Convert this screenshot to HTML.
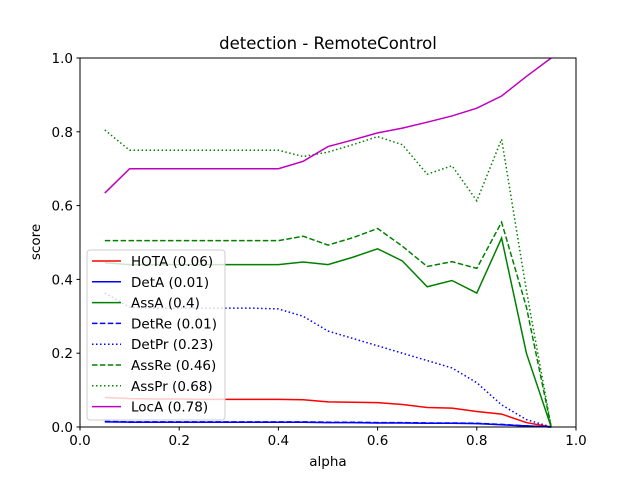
<!DOCTYPE html>
<html><head><meta charset="utf-8"><style>
body{margin:0;background:#fff}
svg{font-family:"DejaVu Sans","Liberation Sans",sans-serif}
</style></head><body>
<svg id="chart" width="640" height="480" viewBox="0 0 640 480">
<rect width="640" height="480" fill="#fff"/>
<text x="328" y="49" font-size="16.5" text-anchor="middle">detection - RemoteControl</text>
<g id="plot"></g>
<rect x="80" y="58" width="496" height="369" fill="none" stroke="#000" stroke-width="1"/>
<g id="axes"></g>
<text x="328" y="466" font-size="13.5" text-anchor="middle">alpha</text>
<text x="40" y="242" font-size="13.5" text-anchor="middle" transform="rotate(-90 40 242)">score</text>
<g id="legend"></g>
</svg>
<script>
const alphas=[0.05,0.1,0.15,0.2,0.25,0.3,0.35,0.4,0.45,0.5,0.55,0.6,0.65,0.7,0.75,0.8,0.85,0.9,0.95];
const hota=[0.08,0.077,0.076,0.076,0.075,0.075,0.075,0.075,0.074,0.068,0.067,0.066,0.061,0.053,0.051,0.042,0.035,0.012,0];
const detA=[0.014,0.013,0.013,0.013,0.013,0.013,0.013,0.013,0.013,0.012,0.012,0.011,0.011,0.01,0.01,0.009,0.006,0.003,0];
const assA=[0.445,0.44,0.44,0.44,0.44,0.44,0.44,0.44,0.447,0.44,0.46,0.483,0.45,0.38,0.397,0.363,0.512,0.2,0];
const detRe=[0.015,0.014,0.014,0.014,0.014,0.014,0.014,0.014,0.014,0.013,0.013,0.012,0.012,0.011,0.011,0.01,0.007,0.003,0];
const detPr=[0.363,0.325,0.322,0.322,0.322,0.322,0.322,0.32,0.3,0.26,0.24,0.22,0.2,0.18,0.16,0.12,0.06,0.02,0];
const assRe=[0.505,0.505,0.505,0.505,0.505,0.505,0.505,0.505,0.517,0.493,0.513,0.538,0.49,0.435,0.448,0.43,0.555,0.325,0];
const assPr=[0.805,0.75,0.75,0.75,0.75,0.75,0.75,0.75,0.733,0.745,0.765,0.787,0.765,0.685,0.708,0.613,0.78,0.37,0];
const locA=[0.634,0.7,0.7,0.7,0.7,0.7,0.7,0.7,0.72,0.76,0.778,0.797,0.81,0.826,0.843,0.864,0.897,0.95,1.0];
const xTicks=[0,0.2,0.4,0.6,0.8,1.0];
const yTicks=[0,0.2,0.4,0.6,0.8,1.0];
const tickLabels=["0.0","0.2","0.4","0.6","0.8","1.0"];
const seriesNames=["HOTA (0.06)","DetA (0.01)","AssA (0.4)","DetRe (0.01)","DetPr (0.23)","AssRe (0.46)","AssPr (0.68)","LocA (0.78)"];
const seriesData=[hota,detA,assA,detRe,detPr,assRe,assPr,locA];
const colors=["#ff0000","#0000ff","#008000","#0000ff","#0000ff","#008000","#008000","#bf00bf"];
const dashes=["","","","5.5,2.4","1.5,2.5","5.5,2.4","1.5,2.5",""];
const slugs=["hota","deta","assa","detre","detpr","assre","asspr","loca"];
const NS="http://www.w3.org/2000/svg";
const X=v=>80+496*v, Y=v=>427-369*v;
const plot=document.getElementById('plot'),axes=document.getElementById('axes'),leg=document.getElementById('legend');
seriesData.forEach((d,i)=>{
 const p=document.createElementNS(NS,'polyline');
 p.setAttribute('points',d.map((v,j)=>X(alphas[j])+','+Y(v)).join(' '));
 p.setAttribute('fill','none');p.setAttribute('stroke',colors[i]);p.setAttribute('stroke-width','1.5');
 if(dashes[i])p.setAttribute('stroke-dasharray',dashes[i]);
 
 
 plot.appendChild(p);
});
xTicks.forEach((t,i)=>{
 const l=document.createElementNS(NS,'line');
 l.setAttribute('x1',X(t));l.setAttribute('x2',X(t));l.setAttribute('y1',427);l.setAttribute('y2',430.5);l.setAttribute('stroke','#000');
 
 
 axes.appendChild(l);
 const tx=document.createElementNS(NS,'text');
 tx.setAttribute('x',X(t));tx.setAttribute('y',445);tx.setAttribute('font-size','13.5');tx.setAttribute('text-anchor','middle');
 tx.textContent=tickLabels[i];
 
 
 axes.appendChild(tx);
});
yTicks.forEach((t,i)=>{
 const l=document.createElementNS(NS,'line');
 l.setAttribute('x1',76.5);l.setAttribute('x2',80);l.setAttribute('y1',Y(t));l.setAttribute('y2',Y(t));l.setAttribute('stroke','#000');
 
 
 axes.appendChild(l);
 const tx=document.createElementNS(NS,'text');
 tx.setAttribute('x',73);tx.setAttribute('y',Y(t)+5);tx.setAttribute('font-size','13.5');tx.setAttribute('text-anchor','end');
 tx.textContent=tickLabels[i];
 
 
 axes.appendChild(tx);
});
const box=document.createElementNS(NS,'rect');
box.setAttribute('x',87);box.setAttribute('y',250);box.setAttribute('width',138);box.setAttribute('height',170);box.setAttribute('rx',3);
box.setAttribute('fill','rgba(255,255,255,0.8)');box.setAttribute('stroke','#ccc');


leg.appendChild(box);
seriesNames.forEach((n,i)=>{
 const y=261+i*20.8;
 const g=document.createElementNS(NS,'g');
 
 
 const l=document.createElementNS(NS,'line');
 l.setAttribute('x1',92);l.setAttribute('x2',121);l.setAttribute('y1',y);l.setAttribute('y2',y);
 l.setAttribute('stroke',colors[i]);l.setAttribute('stroke-width','1.5');
 if(dashes[i])l.setAttribute('stroke-dasharray',dashes[i]);
 g.appendChild(l);
 const t=document.createElementNS(NS,'text');
 t.setAttribute('x',131);t.setAttribute('y',y+5);t.setAttribute('font-size','13.5');
 t.textContent=n;
 g.appendChild(t);
 leg.appendChild(g);
});
</script>
</body></html>
